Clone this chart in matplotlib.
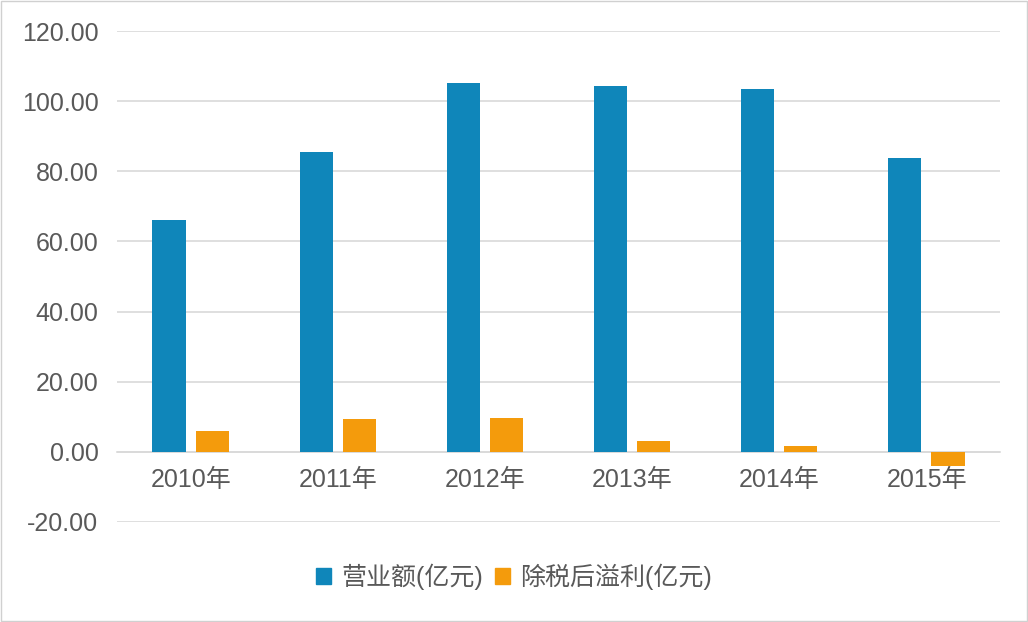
import numpy as np
import matplotlib.pyplot as plt
from matplotlib.patches import Patch

plt.rcParams['font.family'] = ['Liberation Sans', 'Noto Sans CJK SC']

# data
years = ['2010年', '2011年', '2012年', '2013年', '2014年', '2015年']
revenue = [66.1, 85.5, 105.2, 104.3, 103.5, 83.8]
profit = [5.9, 9.3, 9.7, 3.2, 1.7, -4.0]
series_names = ['营业额(亿元)', '除税后溢利(亿元)']
yticks = [-20, 0, 20, 40, 60, 80, 100, 120]

blue = '#0f86ba'
orange = '#f49b0c'
text_gray = '#595959'
grid_gray = '#d9d9d9'

fig = plt.figure(figsize=(10.28, 6.22), dpi=100)
ax = fig.add_axes([0.114, 0.161, 0.859, 0.789])

x = np.arange(len(years))
w = 0.225
ax.bar(x - 0.148, revenue, width=w, color=blue, zorder=3)
ax.bar(x + 0.145, profit, width=w, color=orange, zorder=3)

ax.set_xlim(-0.5, len(years) - 0.5)
ax.set_ylim(-20, 120)
ax.set_yticks(yticks)
ax.set_yticklabels([f'{v:.2f}' for v in yticks])
ax.yaxis.grid(True, color=grid_gray, linewidth=1.2, zorder=0)
ax.tick_params(axis='y', length=0, pad=13.5, labelsize=18, labelcolor=text_gray)

ax.set_xticks(x)
ax.set_xticklabels(years)
ax.spines['bottom'].set_position(('data', 0))
ax.spines['bottom'].set_color(grid_gray)
ax.spines['bottom'].set_linewidth(1.2)
ax.tick_params(axis='x', length=0, pad=12, labelsize=18, labelcolor=text_gray)
for s in ['top', 'left', 'right']:
    ax.spines[s].set_visible(False)

handles = [Patch(color=blue, label=series_names[0]),
           Patch(color=orange, label=series_names[1])]
fig.legend(handles=handles, loc='center', bbox_to_anchor=(0.5, 0.073), ncol=2,
           frameon=False, fontsize=18, labelcolor=text_gray,
           handlelength=0.6, handleheight=0.6, handletextpad=0.4, columnspacing=0.5)

# thin border around the picture
fig.patches.append(plt.Rectangle((0.001, 0.002), 0.998, 0.996, transform=fig.transFigure,
                                 fill=False, edgecolor='#d0d0d0', linewidth=1))

fig.savefig('out.png', dpi=100)
